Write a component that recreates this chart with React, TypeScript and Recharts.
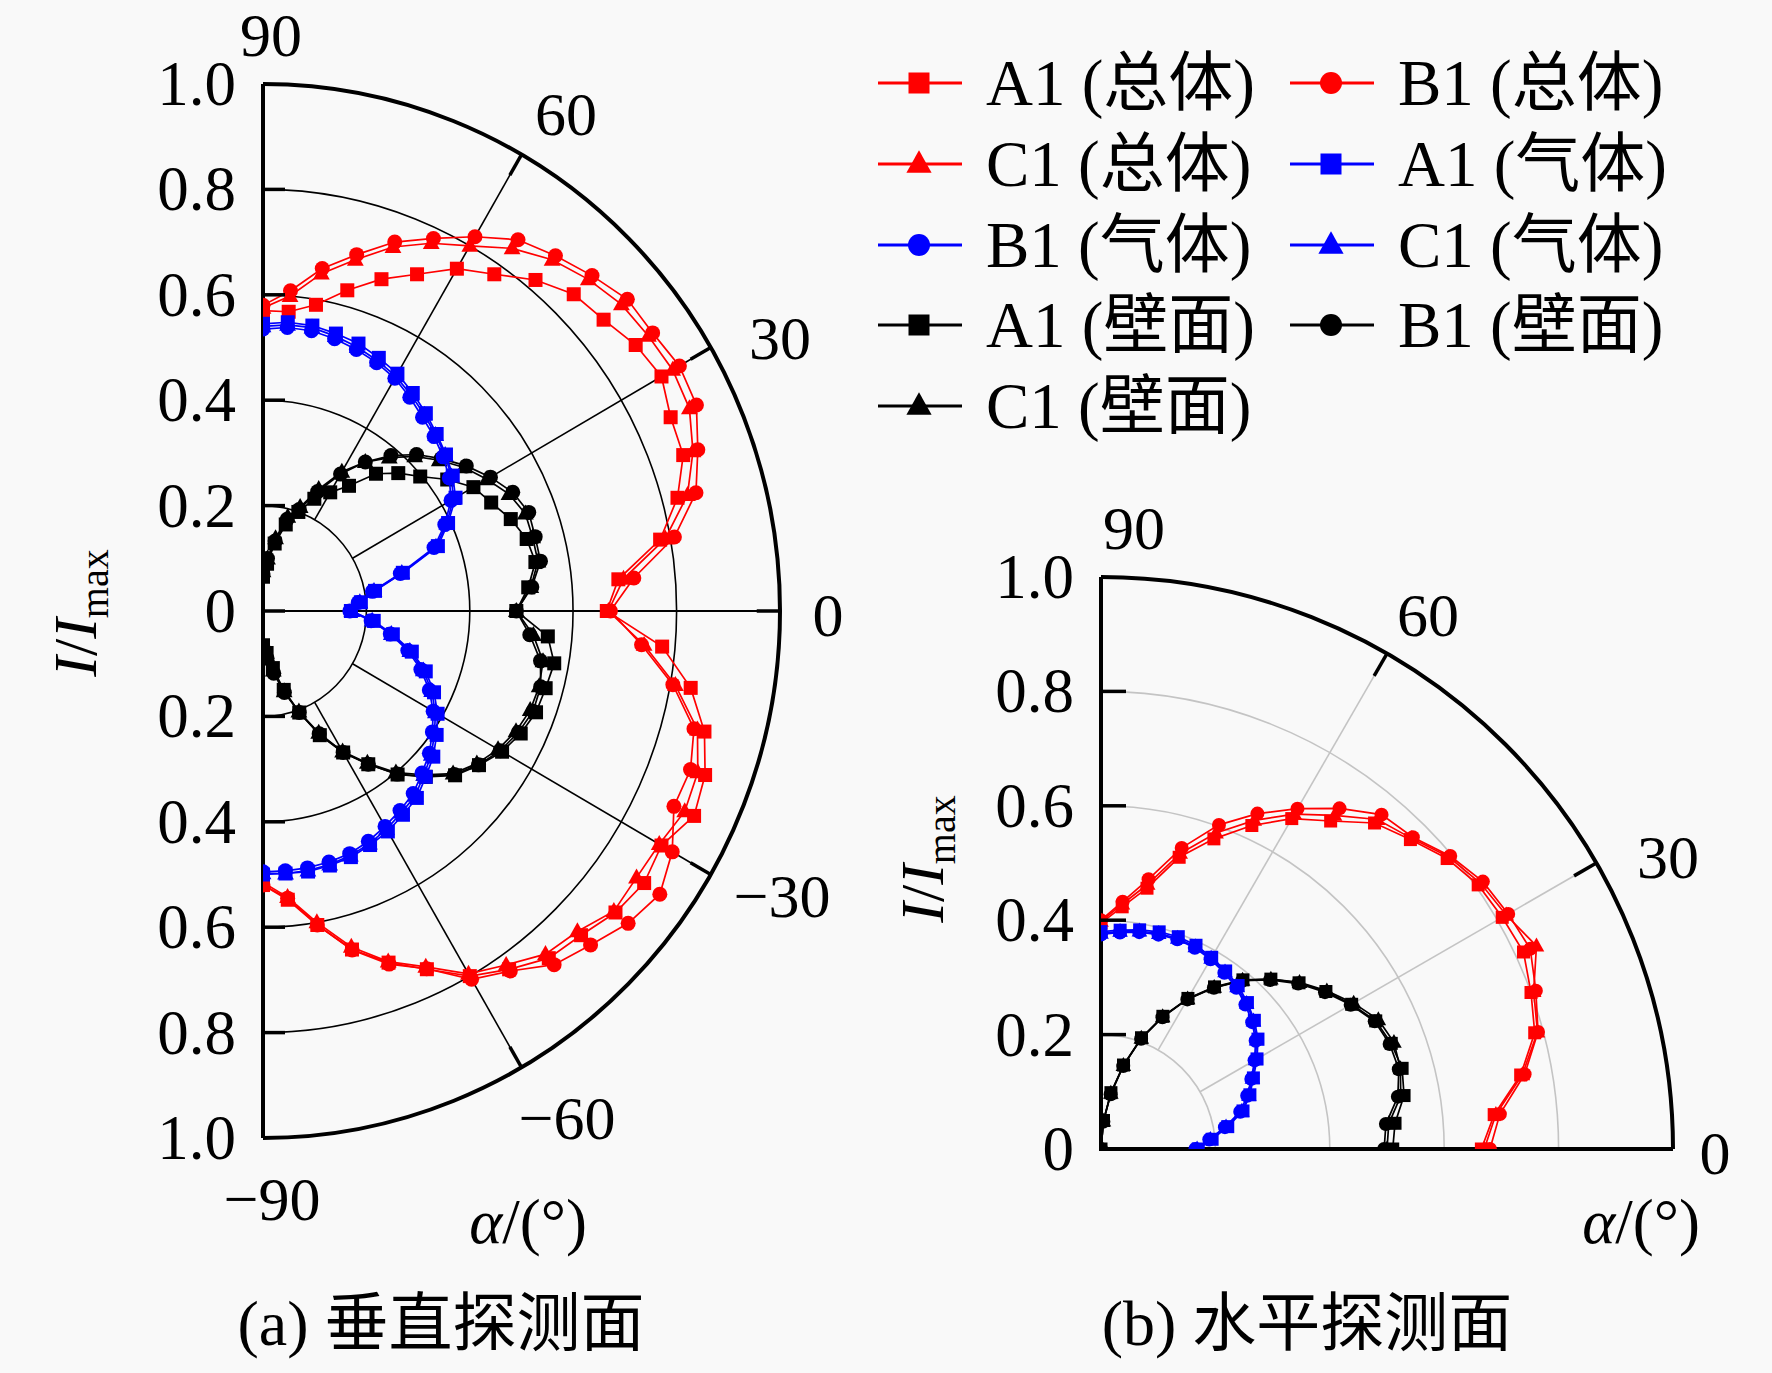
import { ScatterChart, Scatter, XAxis, YAxis } from "recharts";

const SERIF = '"Liberation Serif", "Times New Roman", "Noto Sans CJK SC", serif';

// measuring angles (deg)
const ANGLES_V = [90, 85, 80, 75, 70, 65, 60, 55, 50, 45, 40, 35, 30, 25, 20, 15, 10, 5, 0, -5, -10, -15, -20, -25, -30, -35, -40, -45, -50, -55, -60, -65, -70, -75, -80, -85, -90];
const ANGLES_H = [0, 5, 10, 15, 20, 25, 30, 35, 40, 45, 50, 55, 60, 65, 70, 75, 80, 85, 90];

const RADIAL_TICKS_V = [-1, -0.8, -0.6, -0.4, -0.2, 0, 0.2, 0.4, 0.6, 0.8, 1];
const RADIAL_TICKS_H = [0, 0.2, 0.4, 0.6, 0.8, 1];
const GRID_RINGS = [0.2, 0.4, 0.6, 0.8];

const SERIES_NAMES = ["A1 (总体)", "B1 (总体)", "C1 (总体)", "A1 (气体)", "B1 (气体)", "C1 (气体)", "A1 (壁面)", "B1 (壁面)", "C1 (壁面)"];
const SERIES_COLORS = ["#ff0000", "#ff0000", "#ff0000", "#0000ff", "#0000ff", "#0000ff", "#000000", "#000000", "#000000"];
const SERIES_SHAPES = ["square", "circle", "triangle", "square", "circle", "triangle", "square", "circle", "triangle"];

// (a) vertical plane, I/Imax
const A1_TOTAL_V = [0.57, 0.57, 0.59, 0.63, 0.67, 0.705, 0.75, 0.78, 0.82, 0.85, 0.86, 0.88, 0.89, 0.87, 0.865, 0.83, 0.78, 0.69, 0.665, 0.775, 0.84, 0.884, 0.91, 0.92, 0.89, 0.9, 0.89, 0.87, 0.86, 0.83, 0.8, 0.75, 0.71, 0.665, 0.605, 0.55, 0.52];
const B1_TOTAL_V = [0.58, 0.61, 0.66, 0.7, 0.745, 0.78, 0.82, 0.86, 0.88, 0.9, 0.92, 0.92, 0.93, 0.925, 0.895, 0.867, 0.808, 0.72, 0.672, 0.735, 0.805, 0.863, 0.88, 0.877, 0.914, 0.937, 0.922, 0.896, 0.876, 0.834, 0.807, 0.749, 0.713, 0.666, 0.605, 0.547, 0.52];
const C1_TOTAL_V = [0.575, 0.6, 0.65, 0.69, 0.735, 0.77, 0.8, 0.84, 0.87, 0.89, 0.905, 0.91, 0.915, 0.91, 0.885, 0.85, 0.79, 0.7, 0.668, 0.74, 0.81, 0.87, 0.895, 0.9, 0.885, 0.882, 0.886, 0.86, 0.85, 0.82, 0.795, 0.745, 0.708, 0.66, 0.6, 0.545, 0.515];
const A1_GAS_V = [0.545, 0.55, 0.55, 0.545, 0.54, 0.53, 0.52, 0.505, 0.49, 0.475, 0.462, 0.448, 0.43, 0.395, 0.36, 0.28, 0.22, 0.19, 0.17, 0.215, 0.255, 0.298, 0.335, 0.365, 0.39, 0.41, 0.43, 0.445, 0.463, 0.472, 0.483, 0.49, 0.497, 0.5, 0.502, 0.5, 0.5];
const B1_GAS_V = [0.535, 0.54, 0.54, 0.535, 0.528, 0.52, 0.51, 0.495, 0.48, 0.468, 0.455, 0.44, 0.42, 0.388, 0.352, 0.275, 0.215, 0.185, 0.168, 0.21, 0.25, 0.29, 0.325, 0.355, 0.38, 0.4, 0.42, 0.435, 0.452, 0.462, 0.472, 0.482, 0.49, 0.493, 0.495, 0.495, 0.495];
const C1_GAS_V = [0.54, 0.545, 0.546, 0.54, 0.533, 0.524, 0.514, 0.5, 0.486, 0.472, 0.46, 0.445, 0.425, 0.392, 0.356, 0.278, 0.218, 0.188, 0.172, 0.212, 0.252, 0.294, 0.33, 0.36, 0.385, 0.405, 0.425, 0.44, 0.458, 0.467, 0.478, 0.487, 0.494, 0.498, 0.5, 0.5, 0.498];
const A1_WALL_V = [0.065, 0.09, 0.13, 0.17, 0.2, 0.235, 0.26, 0.29, 0.34, 0.37, 0.397, 0.435, 0.47, 0.487, 0.51, 0.528, 0.535, 0.515, 0.49, 0.553, 0.572, 0.566, 0.562, 0.55, 0.534, 0.51, 0.485, 0.445, 0.405, 0.355, 0.31, 0.26, 0.205, 0.155, 0.11, 0.08, 0.065];
const B1_WALL_V = [0.07, 0.1, 0.135, 0.18, 0.205, 0.25, 0.3, 0.345, 0.385, 0.42, 0.45, 0.48, 0.508, 0.533, 0.547, 0.545, 0.545, 0.522, 0.49, 0.518, 0.545, 0.556, 0.556, 0.545, 0.53, 0.509, 0.483, 0.444, 0.404, 0.355, 0.31, 0.257, 0.205, 0.16, 0.12, 0.09, 0.07];
const C1_WALL_V = [0.075, 0.1, 0.14, 0.185, 0.21, 0.255, 0.305, 0.345, 0.38, 0.415, 0.445, 0.475, 0.5, 0.525, 0.54, 0.54, 0.54, 0.52, 0.49, 0.525, 0.55, 0.553, 0.55, 0.54, 0.525, 0.505, 0.48, 0.44, 0.4, 0.352, 0.308, 0.255, 0.203, 0.158, 0.115, 0.085, 0.07];

// (b) horizontal plane, I/Imax
const A1_TOTAL_H = [0.665, 0.69, 0.745, 0.785, 0.8, 0.815, 0.81, 0.805, 0.79, 0.765, 0.744, 0.7, 0.667, 0.624, 0.577, 0.528, 0.463, 0.425, 0.395];
const B1_TOTAL_H = [0.68, 0.7, 0.752, 0.791, 0.809, 0.828, 0.822, 0.815, 0.797, 0.771, 0.763, 0.727, 0.687, 0.647, 0.603, 0.545, 0.479, 0.434, 0.4];
const C1_TOTAL_H = [0.67, 0.693, 0.748, 0.79, 0.805, 0.84, 0.818, 0.81, 0.794, 0.768, 0.752, 0.712, 0.676, 0.634, 0.588, 0.535, 0.47, 0.43, 0.398];
const A1_GAS_H = [0.17, 0.195, 0.225, 0.257, 0.277, 0.294, 0.315, 0.335, 0.35, 0.362, 0.373, 0.38, 0.387, 0.393, 0.395, 0.393, 0.389, 0.384, 0.38];
const B1_GAS_H = [0.165, 0.19, 0.22, 0.252, 0.272, 0.29, 0.31, 0.33, 0.345, 0.357, 0.368, 0.376, 0.383, 0.388, 0.39, 0.388, 0.385, 0.38, 0.375];
const C1_GAS_H = [0.168, 0.192, 0.222, 0.255, 0.275, 0.292, 0.312, 0.332, 0.348, 0.36, 0.37, 0.378, 0.385, 0.39, 0.392, 0.39, 0.387, 0.382, 0.377];
const A1_WALL_H = [0.51, 0.516, 0.538, 0.545, 0.54, 0.53, 0.506, 0.48, 0.452, 0.42, 0.386, 0.346, 0.304, 0.256, 0.207, 0.152, 0.1, 0.05, 0.0];
const B1_WALL_H = [0.495, 0.5, 0.527, 0.539, 0.537, 0.528, 0.504, 0.478, 0.45, 0.418, 0.384, 0.344, 0.302, 0.254, 0.205, 0.15, 0.097, 0.048, 0.0];
const C1_WALL_H = [0.5, 0.505, 0.532, 0.542, 0.545, 0.535, 0.51, 0.482, 0.453, 0.42, 0.385, 0.345, 0.303, 0.255, 0.206, 0.151, 0.099, 0.049, 0.0];

const VERTICAL = [A1_TOTAL_V, B1_TOTAL_V, C1_TOTAL_V, A1_GAS_V, B1_GAS_V, C1_GAS_V, A1_WALL_V, B1_WALL_V, C1_WALL_V];
const HORIZONTAL = [A1_TOTAL_H, B1_TOTAL_H, C1_TOTAL_H, A1_GAS_H, B1_GAS_H, C1_GAS_H, A1_WALL_H, B1_WALL_H, C1_WALL_H];
const DRAW_ORDER = [6, 7, 8, 0, 1, 2, 3, 4, 5];

// layout of the two polar frames (pixels)
const PA = { cx: 263, cy: 611, rx: 517, ry: 527 };
const PB = { cx: 1101, cy: 1149, rx: 572, ry: 572 };

const rad = (d: number) => (d * Math.PI) / 180;

const toXY = (angles: number[], values: number[]) =>
  angles.map((a, i) => ({ x: values[i] * Math.cos(rad(a)), y: values[i] * Math.sin(rad(a)) }));

const pt = (p: typeof PA, r: number, a: number) => [p.cx + p.rx * r * Math.cos(rad(a)), p.cy - p.ry * r * Math.sin(rad(a))];

const arcPath = (p: typeof PA, r: number, a0: number, a1: number) => {
  const [x0, y0] = pt(p, r, a0);
  const [x1, y1] = pt(p, r, a1);
  return `M${x0},${y0} A${p.rx * r},${p.ry * r} 0 0 1 ${x1},${y1}`;
};

function Marker({ cx, cy, kind, color, size }: any) {
  if (cx == null || cy == null) return null;
  if (kind === "square")
    return <rect x={cx - size / 2} y={cy - size / 2} width={size} height={size} fill={color} />;
  if (kind === "circle") return <circle cx={cx} cy={cy} r={size / 2 + 0.5} fill={color} />;
  return (
    <polygon
      points={`${cx},${cy - size * 0.65} ${cx - size * 0.6},${cy + size * 0.42} ${cx + size * 0.6},${cy + size * 0.42}`}
      fill={color}
    />
  );
}

function radialTick(axisX: number, len: number, noMark: number[]) {
  return (props: any) => {
    const { y, payload } = props;
    const v: number = payload.value;
    const label = v === 0 ? "0" : Math.abs(v).toFixed(1);
    return (
      <g>
        {!noMark.includes(v) && <line x1={axisX} x2={axisX + len} y1={y} y2={y} stroke="#000" strokeWidth={3.5} />}
        <text x={axisX - 27} y={y + 21} textAnchor="end" fontSize={63} fontFamily={SERIF} fill="#000">
          {label}
        </text>
      </g>
    );
  };
}

function PolarSeries(angles: number[], table: number[][], size: number) {
  return DRAW_ORDER.map((i) => {
    const color = SERIES_COLORS[i];
    const kind = SERIES_SHAPES[i];
    return (
      <Scatter
        key={SERIES_NAMES[i]}
        name={SERIES_NAMES[i]}
        data={toXY(angles, table[i])}
        fill={color}
        line={{ stroke: color, strokeWidth: 1.7 }}
        lineType="joint"
        shape={(p: any) => <Marker cx={p.cx} cy={p.cy} kind={kind} color={color} size={size} />}
        isAnimationActive={false}
      />
    );
  });
}

function Label({ x, y, text, size = 62 }: { x: number; y: number; text: string; size?: number }) {
  return (
    <text x={x} y={y + size * 0.34} textAnchor="middle" fontSize={size} fontFamily={SERIF} fill="#000">
      {text}
    </text>
  );
}

function YTitle({ x, y }: { x: number; y: number }) {
  return (
    <text transform={`translate(${x},${y}) rotate(-90)`} textAnchor="middle" fontSize={62} fontFamily={SERIF} fill="#000">
      <tspan fontStyle="italic">I</tspan>
      <tspan>/</tspan>
      <tspan fontStyle="italic">I</tspan>
      <tspan fontSize={40} dy={12}>max</tspan>
    </text>
  );
}

function Backdrop() {
  const spoke = (p: typeof PA, a: number, r0: number, r1: number, stroke: string, w: number, key: string) => {
    const [x0, y0] = pt(p, r0, a);
    const [x1, y1] = pt(p, r1, a);
    return <line key={key} x1={x0} y1={y0} x2={x1} y2={y1} stroke={stroke} strokeWidth={w} />;
  };
  const legendRows = [83, 164, 245, 325, 406];
  const legendCols = [878, 1290];
  return (
    <svg width={1772} height={1373} style={{ position: "absolute", left: 0, top: 0 }}>
      <rect width={1772} height={1373} fill="#f9f9f9" />

      {/* (a) vertical plane frame */}
      {GRID_RINGS.map((r) => (
        <path key={"ra" + r} d={arcPath(PA, r, 90, -90)} fill="none" stroke="#000" strokeWidth={1.6} />
      ))}
      {[60, 30, -30, -60].map((a) => spoke(PA, a, 0.2, 1, "#000", 1.6, "sa" + a))}
      {spoke(PA, 0, 0, 1, "#000", 2, "sa0")}
      {[60, 30, 0, -30, -60].map((a) => spoke(PA, a, 0.955, 1, "#000", 3.5, "ta" + a))}
      <path d={arcPath(PA, 1, 90, -90)} fill="none" stroke="#000" strokeWidth={4} />
      <Label x={271} y={35} text="90" />
      <Label x={566} y={114} text="60" />
      <Label x={780} y={338} text="30" />
      <Label x={828} y={615} text="0" />
      <Label x={782} y={896} text="−30" />
      <Label x={567} y={1118} text="−60" />
      <Label x={272} y={1199} text="−90" />
      <YTitle x={96} y={613} />
      <text x={528} y={1243} textAnchor="middle" fontSize={63} fontFamily={SERIF}>
        <tspan fontStyle="italic">α</tspan>
        <tspan>/(°)</tspan>
      </text>
      <text x={441} y={1345} textAnchor="middle" fontSize={64} fontFamily={SERIF}>
        (a) 垂直探测面
      </text>

      {/* (b) horizontal plane frame */}
      {GRID_RINGS.map((r) => (
        <path key={"rb" + r} d={arcPath(PB, r, 90, 0)} fill="none" stroke="#c4c4c4" strokeWidth={1.6} />
      ))}
      {[60, 30].map((a) => spoke(PB, a, 0.2, 1, "#c4c4c4", 1.6, "sb" + a))}
      {[60, 30].map((a) => spoke(PB, a, 0.955, 1, "#000", 3.5, "tb" + a))}
      <path d={arcPath(PB, 1, 90, 0)} fill="none" stroke="#000" strokeWidth={4} />
      <line x1={PB.cx - 2} y1={PB.cy} x2={PB.cx + PB.rx} y2={PB.cy} stroke="#000" strokeWidth={4} />
      <Label x={1134} y={528} text="90" />
      <Label x={1428} y={615} text="60" />
      <Label x={1668} y={857} text="30" />
      <Label x={1715} y={1153} text="0" />
      <YTitle x={943} y={859} />
      <text x={1641} y={1243} textAnchor="middle" fontSize={63} fontFamily={SERIF}>
        <tspan fontStyle="italic">α</tspan>
        <tspan>/(°)</tspan>
      </text>
      <text x={1307} y={1345} textAnchor="middle" fontSize={64} fontFamily={SERIF}>
        (b) 水平探测面
      </text>

      {/* legend */}
      {SERIES_NAMES.map((name, i) => {
        const x0 = legendCols[i % 2];
        const y = legendRows[Math.floor(i / 2)];
        return (
          <g key={"lg" + name}>
            <line x1={x0} x2={x0 + 84} y1={y} y2={y} stroke={SERIES_COLORS[i]} strokeWidth={3} />
            <Marker cx={x0 + 41} cy={y} kind={SERIES_SHAPES[i]} color={SERIES_COLORS[i]} size={21} />
            <text x={x0 + 108} y={y + 22} fontSize={65} fontFamily={SERIF} fill="#000">
              {name}
            </text>
          </g>
        );
      })}
    </svg>
  );
}

export default function App() {
  return (
    <div style={{ position: "absolute", left: 0, top: 0, width: 1772, height: 1373, background: "#f9f9f9" }}>
      <Backdrop />
      <div style={{ position: "absolute", left: 0, top: 0 }}>
        <ScatterChart width={800} height={1200} margin={{ top: PA.cy - PA.ry, right: 800 - PA.cx - PA.rx, bottom: 1200 - PA.cy - PA.ry, left: PA.cx - 100 }}>
          <XAxis type="number" dataKey="x" domain={[0, 1]} hide allowDataOverflow />
          <YAxis
            type="number"
            dataKey="y"
            domain={[-1, 1]}
            ticks={RADIAL_TICKS_V}
            interval={0}
            width={100}
            allowDataOverflow
            axisLine={{ stroke: "#000", strokeWidth: 4 }}
            tickLine={false}
            tick={radialTick(PA.cx, 22, [-1, 1])}
          />
          {PolarSeries(ANGLES_V, VERTICAL, 14)}
        </ScatterChart>
      </div>
      <div style={{ position: "absolute", left: 900, top: 500 }}>
        <ScatterChart width={800} height={700} margin={{ top: PB.cy - PB.ry - 500, right: 1700 - PB.cx - PB.rx, bottom: 1200 - PB.cy, left: PB.cx - 900 - 100 }}>
          <XAxis type="number" dataKey="x" domain={[0, 1]} hide allowDataOverflow />
          <YAxis
            type="number"
            dataKey="y"
            domain={[0, 1]}
            ticks={RADIAL_TICKS_H}
            interval={0}
            width={100}
            allowDataOverflow
            axisLine={{ stroke: "#000", strokeWidth: 4 }}
            tickLine={false}
            tick={radialTick(PB.cx - 900, 25, [0, 1])}
          />
          {PolarSeries(ANGLES_H, HORIZONTAL, 13)}
        </ScatterChart>
      </div>
    </div>
  );
}
